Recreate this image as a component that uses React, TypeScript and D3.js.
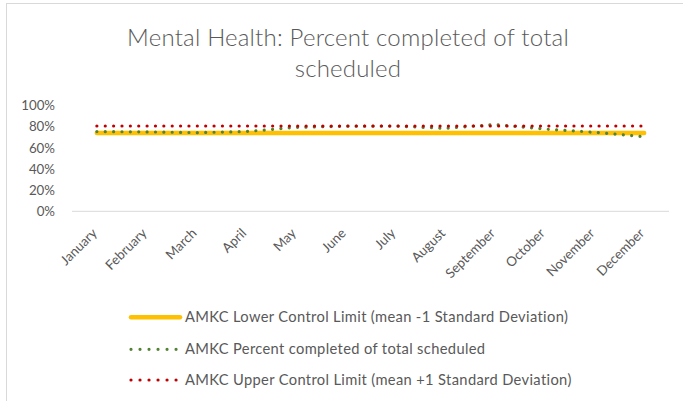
import React from "react";
import * as d3 from "d3";

const months = ["January","February","March","April","May","June","July","August","September","October","November","December"];
const lowerLimit = [0.741,0.741,0.741,0.741,0.741,0.741,0.741,0.741,0.741,0.741,0.741,0.741];
const percentCompleted = [0.755,0.752,0.745,0.755,0.795,0.806,0.807,0.785,0.822,0.779,0.748,0.706];
const upperLimit = [0.808,0.808,0.808,0.808,0.808,0.808,0.808,0.808,0.808,0.808,0.808,0.808];
const yTicks = [0,0.2,0.4,0.6,0.8,1.0];
const titleLines = ["Mental Health: Percent completed of total","scheduled"];
const legendLabels = [
  "AMKC Lower Control Limit (mean -1 Standard Deviation)",
  "AMKC Percent completed of total scheduled",
  "AMKC Upper Control Limit (mean +1 Standard Deviation)",
];

const W = 683, H = 401;
const FONT = "Lato, 'Open Sans', sans-serif";
const TXT = "#595959";

export default function App() {
  const x = d3.scaleBand<string>().domain(months).range([72, 669]).padding(0);
  const cx = (m: string) => (x(m) as number) + x.bandwidth() / 2;
  const y = d3.scaleLinear().domain([0, 1]).range([211.3, 105.7]);
  const line = d3.line<number>().x((_, i) => cx(months[i])).y((v) => y(v));

  const series = [
    { data: lowerLimit, color: "#FFC000", width: 4.5, dash: undefined as string | undefined },
    { data: percentCompleted, color: "#548235", width: 3.2, dash: "0.01 8.36" },
    { data: upperLimit, color: "#C00000", width: 3.2, dash: "0.01 8.36" },
  ];
  const legendY = [317.3, 349.3, 380];

  return (
    <svg width={W} height={H} style={{ position: "absolute", left: 0, top: 0, background: "#fff" }} fontFamily={FONT}>
      <rect x={0} y={0} width={W} height={H} fill="#fff" />
      <rect x={6.5} y={3.5} width={720} height={440} fill="none" stroke="#d9d9d9" strokeWidth={1} />
      {titleLines.map((t, i) => (
        <text key={i} x={348} y={46 + i * 31} textAnchor="middle" fontSize={24} fill={TXT} fontWeight={300} letterSpacing={0.2}>{t}</text>
      ))}
      {yTicks.map((t) => (
        <text key={t} x={55} y={y(t) + 4.6} textAnchor="end" fontSize={13.3} fill={TXT}>{d3.format(".0%")(t)}</text>
      ))}
      <line x1={72} x2={669} y1={y(0)} y2={y(0)} stroke="#d9d9d9" strokeWidth={1} />
      {months.map((m) => (
        <text key={m} transform={`translate(${cx(m) + 1},234) rotate(-45)`} textAnchor="end" fontSize={13.3} fill={TXT}>{m}</text>
      ))}
      {series.map((s, i) => (
        <path key={i} d={line(s.data) as string} fill="none" stroke={s.color} strokeWidth={s.width}
          strokeLinecap="round" strokeLinejoin="round" strokeDasharray={s.dash} />
      ))}
      {series.map((s, i) => (
        <g key={i}>
          <line x1={131} x2={i === 0 ? 180 : 177} y1={legendY[i]} y2={legendY[i]} stroke={s.color}
            strokeWidth={s.width} strokeLinecap="round" strokeDasharray={s.dash ? "0.01 9" : undefined} />
          <text x={185} y={legendY[i] + 5} fontSize={14.7} fill={TXT} letterSpacing={0.35}>{legendLabels[i]}</text>
        </g>
      ))}
    </svg>
  );
}
